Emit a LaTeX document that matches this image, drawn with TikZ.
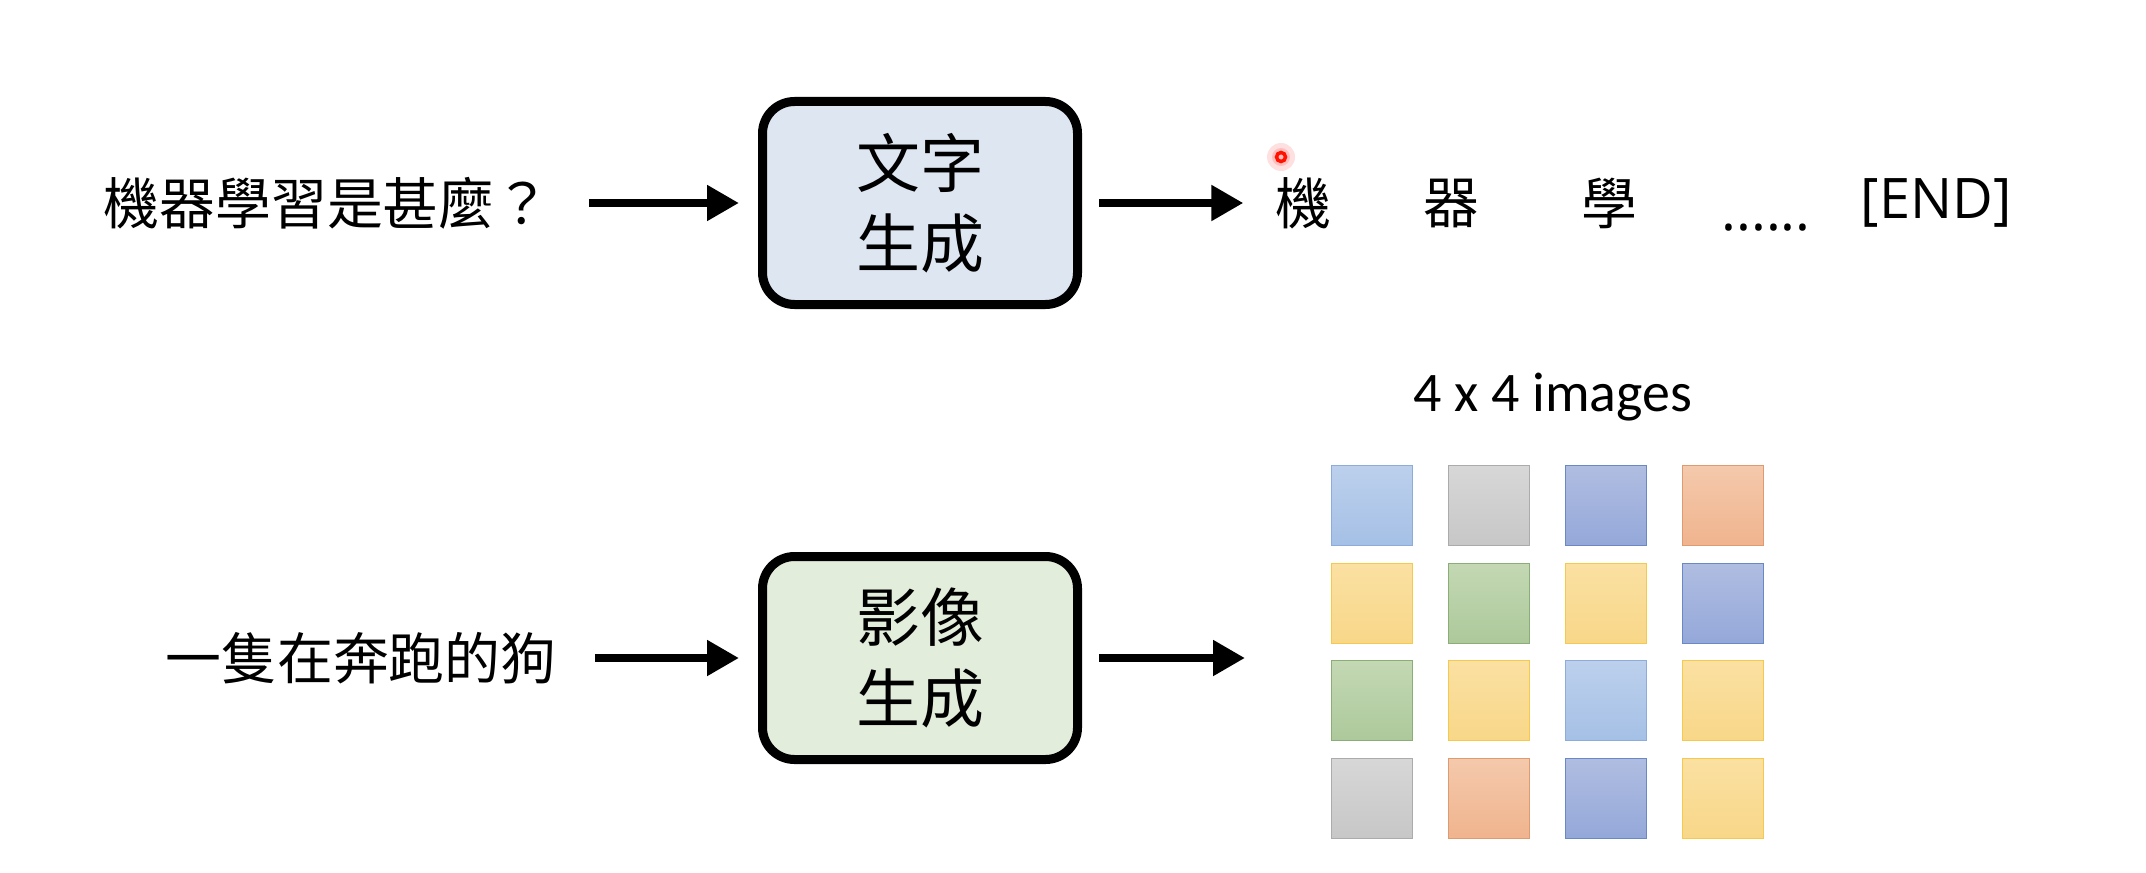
\documentclass[tikz,border=0pt]{standalone}
\usepackage{fontspec}
\setmainfont{Noto Sans CJK TC}
\newfontfamily\latinfont{Open Sans}
\newfontfamily\calfont{Carlito}
\usetikzlibrary{arrows.meta}
\usetikzlibrary{positioning}

\definecolor{txtbox}{HTML}{DEE6F2}
\definecolor{imgbox}{HTML}{E3EDDB}
\definecolor{lbtop}{HTML}{BCD0EC}\definecolor{lbbot}{HTML}{A5C0E6}\definecolor{lbline}{HTML}{8EACDB}
\definecolor{gytop}{HTML}{D7D7D7}\definecolor{gybot}{HTML}{C7C7C7}\definecolor{gyline}{HTML}{ABABAB}
\definecolor{bltop}{HTML}{B0BDE1}\definecolor{blbot}{HTML}{94A8D9}\definecolor{blline}{HTML}{6B88C6}
\definecolor{ortop}{HTML}{F4C9AC}\definecolor{orbot}{HTML}{F0B48E}\definecolor{orline}{HTML}{DE9A70}
\definecolor{yetop}{HTML}{FAE0A2}\definecolor{yebot}{HTML}{F8D788}\definecolor{yeline}{HTML}{F4C94C}
\definecolor{grtop}{HTML}{C3D8B3}\definecolor{grbot}{HTML}{ADC99B}\definecolor{grline}{HTML}{8BAE78}

\tikzset{gen/.style = {draw, line width=0.09cm, rounded corners=0.32cm,
                       minimum width=3.15cm, minimum height=2.03cm, align=center,
                       font=\fontsize{18.2pt}{22.8pt}\selectfont},
         words/.style = {inner sep=0, font=\fontsize{15.9pt}{19pt}\selectfont},
         latin/.style = {words, font=\latinfont\fontsize{15.9pt}{19pt}\selectfont},
         arrow/.style = {line width=0.08cm, -{Triangle[length=0.32cm, width=0.34cm]}},
         tile/.style = {draw=#1line, top color=#1top, bottom color=#1bot,
                        line width=0.4pt, inner sep=0, anchor=north west,
                        minimum width=0.81cm, minimum height=0.80cm}}

\begin{document}
\begin{tikzpicture}
    \useasboundingbox (0,0) rectangle (21.46,-8.72);

    % text generation
    \node [words] (q) at (3.27, -2.03) {機器學習是甚麼？};
    \node [gen, fill=txtbox] (tg) at (9.20, -2.03) {文字\\生成};
    \node [words] (t1) at (13.03, -2.03) {機};
    \node [words] (t2) at (14.51, -2.03) {器};
    \node [words] (t3) at (16.09, -2.03) {學};
    \node [latin, anchor=base] (t4) at (17.66, -2.30) {......};
    \node [latin] (t5) at (19.36, -2.03) {[END]};
    \draw [arrow] ([xshift=0.38cm]q.east) -- ([xshift=-0.19cm]tg.west);
    \draw [arrow] ([xshift=0.17cm]tg.east) -- ([xshift=-0.31cm]t1.west);

    % pointer
    \fill [red!12] (12.81, -1.57) circle (0.14);
    \fill [red!25] (12.81, -1.57) circle (0.09);
    \draw [red!85!orange, line width=0.035cm] (12.81, -1.57) circle (0.045);

    % image generation
    \node [words] (p) at (3.61, -6.58) {一隻在奔跑的狗};
    \node [gen, fill=imgbox] (ig) at (9.20, -6.58) {影像\\生成};
    \coordinate (grid) at (12.45, -6.58);
    \draw [arrow] ([xshift=0.38cm]p.east) -- ([xshift=-0.19cm]ig.west);
    \draw [arrow] ([xshift=0.17cm]ig.east) -- (grid);

    \node [font=\calfont\fontsize{15.9pt}{19pt}\selectfont] (cap) at (15.53, -3.97) {4 x 4 images};
    \foreach \row [count=\r] in {{lb,gy,bl,or},{ye,gr,ye,bl},{gr,ye,lb,ye},{gy,or,bl,ye}} {
      \foreach \c [count=\k] in \row {
        \pgfmathsetmacro\xx{13.31 + 1.17 * (\k - 1)}
        \pgfmathsetmacro\yy{-4.65 - 0.975 * (\r - 1)}
        \node [tile=\c] (img-\r-\k) at (\xx, \yy) {};
      };
    };
\end{tikzpicture}
\end{document}
